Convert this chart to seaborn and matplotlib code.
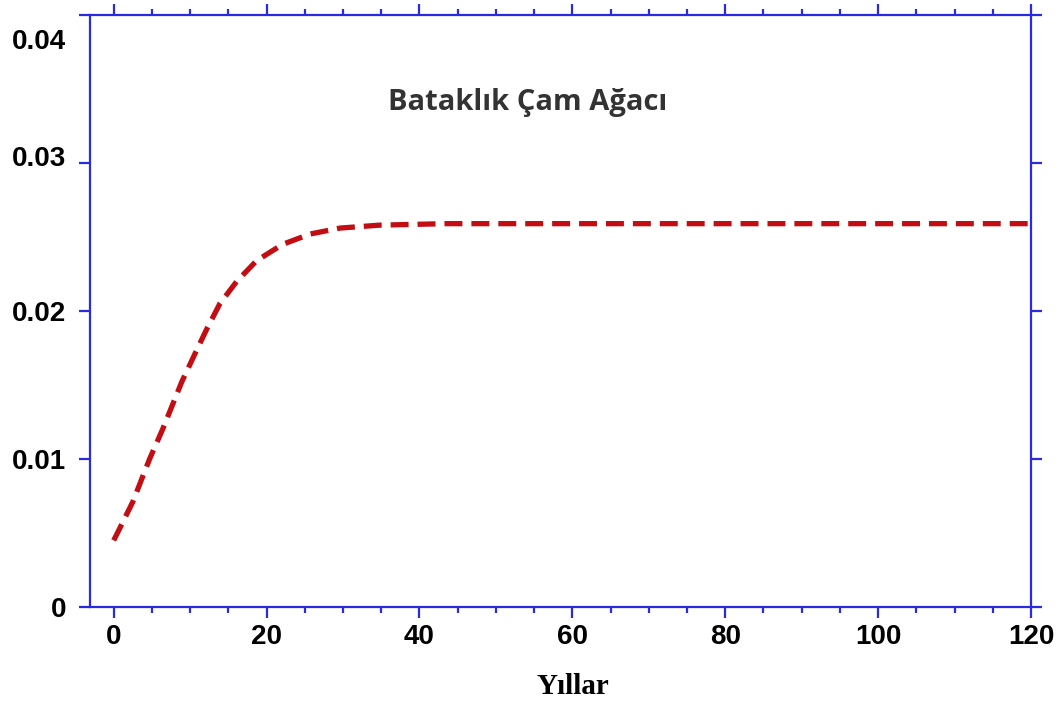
"""Bataklik cam agaci buyume egrisi"""
import matplotlib
matplotlib.use("Agg")
import matplotlib.pyplot as plt
from matplotlib.ticker import MultipleLocator, FixedLocator, FixedFormatter
from matplotlib.transforms import ScaledTranslation
import pandas as pd
import seaborn as sns


YEARS = [0, 0.3, 2.5, 4.7, 6.4, 8.9, 10.9, 12.2, 13.9, 16.1, 18.7, 22.1,
         25.7, 29.6, 34.8, 43.6, 60, 80, 100, 120]
RATE = [0.0045, 0.0048, 0.0071, 0.0100, 0.0120, 0.0152, 0.0174, 0.0188,
        0.0205, 0.0220, 0.0234, 0.0245, 0.0252, 0.0256, 0.0258, 0.0259,
        0.0259, 0.0259, 0.0259, 0.0259]
Y_TICKS = [0, 0.01, 0.02, 0.03, 0.04]
Y_LABELS = ["0", "0.01", "0.02", "0.03", "0.04"]
X_TICKS = [0, 20, 40, 60, 80, 100, 120]
TITLE = "Bataklık Çam Ağacı"
XLABEL = "Yıllar"

AXIS_BLUE = "#2a2ae0"
LINE_RED = "#c20d12"


def plot_growth():
    sns.set_style("white")
    plt.rcParams["font.family"] = ["Liberation Sans", "DejaVu Sans"]

    df = pd.DataFrame({"year": YEARS, "rate": RATE})

    fig = plt.figure(figsize=(10.61, 7.03), dpi=100)
    ax = fig.add_axes([0.0848, 0.1366, 0.8869, 0.8421])

    sns.lineplot(data=df, x="year", y="rate", ax=ax, color=LINE_RED,
                 linewidth=3.8, linestyle=(0, (3.4, 1.7)))

    ax.set_xlim(-3.1, 120)
    ax.set_ylim(0, 0.04)

    for side in ["left", "right", "top", "bottom"]:
        ax.spines[side].set_visible(True)
        ax.spines[side].set_color(AXIS_BLUE)
        ax.spines[side].set_linewidth(1.6)

    ax.xaxis.set_major_locator(FixedLocator(X_TICKS))
    ax.xaxis.set_minor_locator(MultipleLocator(5))
    ax.yaxis.set_major_locator(FixedLocator(Y_TICKS))
    ax.yaxis.set_major_formatter(FixedFormatter(Y_LABELS))

    ax.tick_params(axis="both", which="both", direction="out",
                   color=AXIS_BLUE, width=1.6, top=True, right=True,
                   bottom=True, left=True, labeltop=False, labelright=False,
                   labelcolor="black")
    ax.tick_params(axis="both", which="major", length=8)
    ax.tick_params(axis="x", which="minor", length=4.5)
    ax.tick_params(axis="x", which="major", pad=4, labelsize=20)
    ax.tick_params(axis="y", which="major", pad=9, labelsize=20)
    for lab in ax.get_xticklabels() + ax.get_yticklabels():
        lab.set_fontweight("bold")

    # top label sits a bit lower in the original
    fig.canvas.draw()
    top_lab = ax.get_yticklabels()[-1]
    top_lab.set_transform(top_lab.get_transform()
                          + ScaledTranslation(0, -0.24, fig.dpi_scale_trans))
    mid_lab = ax.get_yticklabels()[3]
    mid_lab.set_transform(mid_lab.get_transform()
                          + ScaledTranslation(0, 0.07, fig.dpi_scale_trans))

    ax.set_xlabel("")
    ax.set_ylabel("")

    ax.text(54.2, 0.0341, TITLE, ha="center", va="center", fontsize=21,
            fontweight="bold", color="#333333",
            family=["Open Sans", "DejaVu Sans"])

    fig.text(573 / 1061, 1 - 686 / 703, XLABEL, ha="center", va="center",
             fontsize=21, fontweight="bold", color="black",
             family=["Liberation Serif", "DejaVu Serif"])

    fig.savefig("out.png", dpi=100)


if __name__ == "__main__":
    plot_growth()
